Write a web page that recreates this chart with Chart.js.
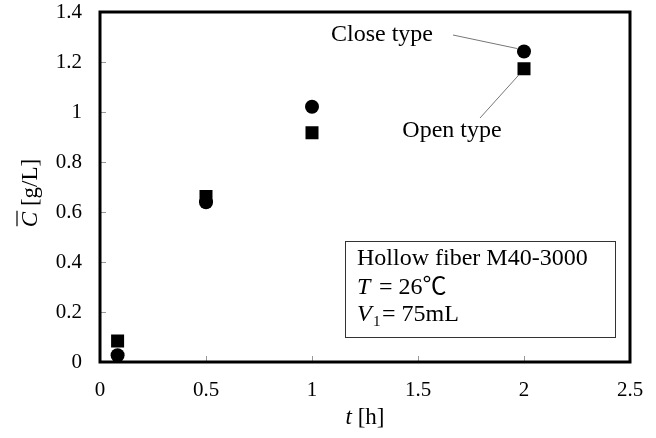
<!DOCTYPE html>
<html>
<head>
<meta charset="utf-8">
<script src="https://cdn.jsdelivr.net/npm/chart.js@4"></script>
<style>
  html, body { margin: 0; padding: 0; background: #fff; }
  #wrap { width: 656px; height: 438px; }
</style>
</head>
<body>
<div id="wrap"><canvas id="conc-chart" width="656" height="438"></canvas></div>
<script>
// sampling times [h]
const times = [0.083, 0.5, 1, 2];
// mean concentration [g/L]
const closeType = [0.027, 0.639, 1.021, 1.242];
const openType = [0.084, 0.662, 0.917, 1.173];

const xTicks = [0, 0.5, 1, 1.5, 2, 2.5];
const yTicks = [0, 0.2, 0.4, 0.6, 0.8, 1, 1.2, 1.4];

const serif = '"Liberation Serif", "Times New Roman", "Noto Sans CJK JP", serif';

// frame, inner ticks, axis titles, info box and callouts
const decorations = {
  id: 'decorations',
  afterDraw(chart) {
    const ctx = chart.ctx;
    const a = chart.chartArea;
    const xs = chart.scales.x, ys = chart.scales.y;
    ctx.save();

    // inward ticks
    ctx.strokeStyle = '#999';
    ctx.lineWidth = 1;
    xTicks.forEach(v => {
      const px = Math.round(xs.getPixelForValue(v)) + 0.5;
      ctx.beginPath(); ctx.moveTo(px, a.bottom); ctx.lineTo(px, a.bottom - 6); ctx.stroke();
    });
    yTicks.forEach(v => {
      const py = Math.round(ys.getPixelForValue(v)) + 0.5;
      ctx.beginPath(); ctx.moveTo(a.left, py); ctx.lineTo(a.left + 6, py); ctx.stroke();
    });

    // frame
    ctx.strokeStyle = '#000';
    ctx.lineWidth = 3;
    ctx.strokeRect(a.left, a.top, a.right - a.left, a.bottom - a.top);

    // x title: t [h]
    ctx.fillStyle = '#000';
    ctx.textBaseline = 'middle';
    ctx.textAlign = 'left';
    ctx.font = 'italic 23px ' + serif;
    const tW = ctx.measureText('t').width;
    ctx.font = '23px ' + serif;
    const restW = ctx.measureText(' [h]').width;
    let x0 = (a.left + a.right) / 2 - (tW + restW) / 2;
    ctx.font = 'italic 23px ' + serif;
    ctx.fillText('t', x0, 418);
    ctx.font = '23px ' + serif;
    ctx.fillText(' [h]', x0 + tW, 418);

    // y title: C-bar [g/L]
    ctx.save();
    ctx.translate(31, (a.top + a.bottom) / 2 + 6);
    ctx.rotate(-Math.PI / 2);
    ctx.font = 'italic 23px ' + serif;
    const cW = ctx.measureText('C').width;
    ctx.font = '23px ' + serif;
    const gW = ctx.measureText(' [g/L]').width;
    x0 = -(cW + gW) / 2;
    ctx.font = 'italic 23px ' + serif;
    ctx.fillText('C', x0, 0);
    ctx.lineWidth = 1.2;
    ctx.beginPath(); ctx.moveTo(x0 + 1, -14); ctx.lineTo(x0 + cW + 1, -14); ctx.stroke();
    ctx.font = '23px ' + serif;
    ctx.fillText(' [g/L]', x0 + cW, 0);
    ctx.restore();

    // info box
    ctx.lineWidth = 1;
    ctx.strokeStyle = '#333';
    ctx.strokeRect(345.5, 241.5, 270, 96);
    const lx = 357;
    ctx.font = '24px ' + serif;
    ctx.fillText('Hollow fiber M40-3000', lx, 259);
    ctx.font = 'italic 24px ' + serif;
    ctx.fillText('T', lx, 288);
    ctx.font = '24px ' + serif;
    ctx.fillText(' = 26\u2103', lx + 16, 288);
    ctx.font = 'italic 24px ' + serif;
    ctx.fillText('V', lx, 315);
    ctx.font = '15px ' + serif;
    ctx.fillText('1', lx + 16, 322);
    ctx.font = '24px ' + serif;
    ctx.fillText('= 75mL', lx + 25, 315);

    // callouts for the last points
    const px = xs.getPixelForValue(times[3]);
    const pc = ys.getPixelForValue(closeType[3]);
    const po = ys.getPixelForValue(openType[3]);
    ctx.strokeStyle = '#777';
    ctx.lineWidth = 1;
    ctx.beginPath(); ctx.moveTo(453, 35); ctx.lineTo(px - 7, pc - 3); ctx.stroke();
    ctx.beginPath(); ctx.moveTo(480, 118); ctx.lineTo(px - 5, po + 6); ctx.stroke();
    ctx.fillStyle = '#000';
    ctx.font = '24px ' + serif;
    ctx.textAlign = 'center';
    ctx.fillText('Close type', 382, 35);
    ctx.fillText('Open type', 452, 131);

    ctx.restore();
  }
};

const data = {
  datasets: [{
    label: 'Close type',
    data: times.map((t, i) => ({ x: t, y: closeType[i] })),
    pointStyle: 'circle',
    pointRadius: 7,
    backgroundColor: '#000',
    borderColor: '#000',
    borderWidth: 0,
  },
  {
    label: 'Open type',
    data: times.map((t, i) => ({ x: t, y: openType[i] })),
    pointStyle: 'rect',
    pointRadius: 9.2,
    backgroundColor: '#000',
    borderColor: '#000',
    borderWidth: 0,
  }]
};

const config = {
  type: 'scatter',
  data: data,
  options: {
    responsive: false,
    animation: false,
    layout: { padding: { left: 0, right: 26, top: 12, bottom: 0 } },
    plugins: { legend: { display: false }, tooltip: { enabled: false } },
    scales: {
      x: {
        type: 'linear',
        min: 0, max: 2.5,
        afterBuildTicks: s => { s.ticks = xTicks.map(v => ({ value: v })); },
        afterFit: s => { s.height = 76; s.paddingLeft = 0; s.paddingRight = 0; },
        grid: { display: false, drawTicks: false },
        border: { display: false },
        ticks: { padding: 16, color: '#000', font: { family: serif, size: 21 }, maxRotation: 0,
          callback: v => String(v) },
      },
      y: {
        type: 'linear',
        min: 0, max: 1.4,
        afterBuildTicks: s => { s.ticks = yTicks.map(v => ({ value: v })); },
        afterFit: s => { s.width = 100; s.paddingTop = 0; s.paddingBottom = 0; },
        grid: { display: false, drawTicks: false },
        border: { display: false },
        ticks: { padding: 18, color: '#000', font: { family: serif, size: 21 },
          callback: v => String(v) },
      },
    },
  },
  plugins: [decorations],
};

const ctx = document.getElementById('conc-chart').getContext('2d');
const chart = new Chart(ctx, config);
</script>
</body>
</html>
